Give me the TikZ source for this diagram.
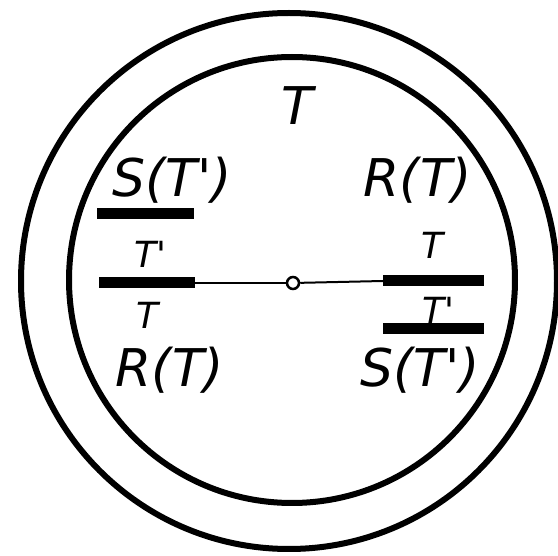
\documentclass[tikz,border=0pt]{standalone}
\usepackage{fontspec}
\setmainfont{DejaVu Sans}
\newcommand{\pr}{\textquotesingle}
\begin{document}
\begin{tikzpicture}[x=1pt,y=-1pt,
  lbl/.style={font=\itshape\fontsize{52}{52}\selectfont, inner sep=0pt},
  sm/.style={font=\itshape\fontsize{36}{36}\selectfont, inner sep=0pt},
  ring/.style={line width=6pt},
  bar/.style={line width=11pt},
  thinline/.style={line width=2pt}]
\useasboundingbox (0,0) rectangle (558,556);
% rings
\draw[ring] (289,281) circle (268pt);
\draw[ring] (292,280) circle (223pt);
% bars
\coordinate (lb1) at (99,283);
\coordinate (lb2) at (195,283);
\coordinate (rb1) at (383,281);
\coordinate (rb2) at (484,281);
\coordinate (ub1) at (97,214);
\coordinate (ub2) at (194,214);
\coordinate (db1) at (383,329);
\coordinate (db2) at (484,329);
\node[circle, draw, line width=2.5pt, fill=white, minimum size=12pt, inner sep=0pt] (c) at (293,283) {};
\draw[thinline] (lb2) -- (c);
\draw[thinline] (c) -- (rb1);
\draw[bar] (lb1) -- (lb2);
\draw[bar] (rb1) -- (rb2);
\draw[bar] (ub1) -- (ub2);
\draw[bar] (db1) -- (db2);
% labels
\node[lbl] (t) at (297,106) {T};
\node[lbl] (slu) at (172,180) {S(T\pr)};
\node[lbl] (rru) at (418,180) {R(T)};
\node[lbl] (rld) at (170,370) {R(T)};
\node[lbl] (srd) at (420,370) {S(T\pr)};
\node[sm] (tl1) at (150,254) {T\pr};
\node[sm] (tl2) at (147,315) {T};
\node[sm] (tr1) at (432,245) {T};
\node[sm] (tr2) at (438,310) {T\pr};
\end{tikzpicture}
\end{document}
